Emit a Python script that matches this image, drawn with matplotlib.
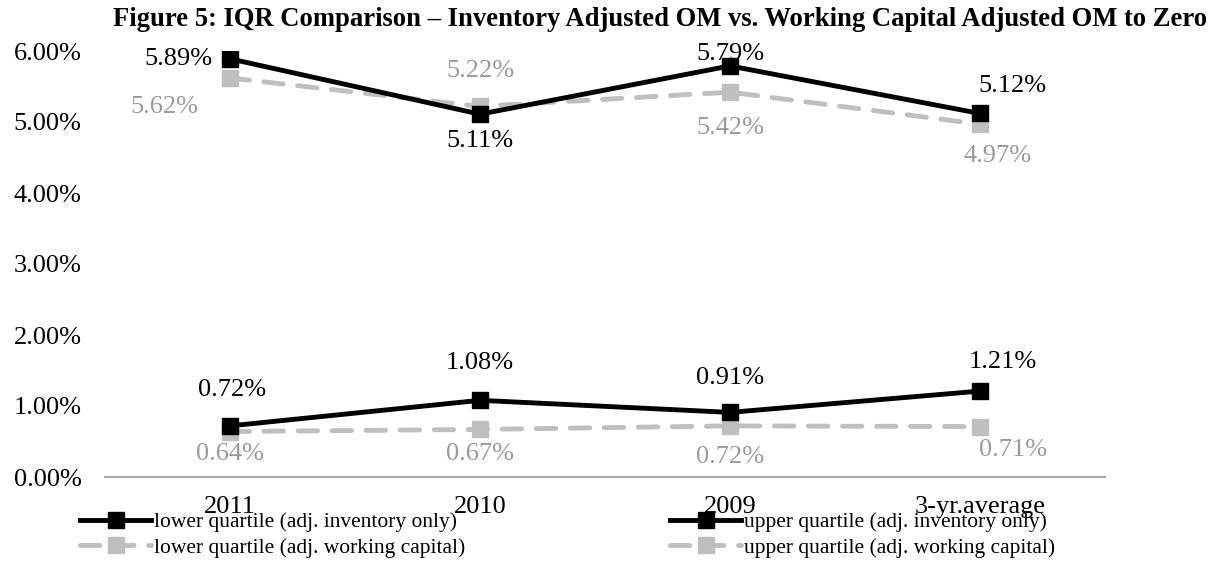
import matplotlib.pyplot as plt

plt.rcParams["font.family"] = ["Liberation Serif", "DejaVu Serif"]

# data (percent)
categories = ["2011", "2010", "2009", "3-yr.average"]
lower_inv = [0.72, 1.08, 0.91, 1.21]
upper_inv = [5.89, 5.11, 5.79, 5.12]
lower_wc = [0.64, 0.67, 0.72, 0.71]
upper_wc = [5.62, 5.22, 5.42, 4.97]
yticks = [0, 1, 2, 3, 4, 5, 6]

# label offsets in pixels for each point
off_lower_inv = [(2, 36), (0, 37), (0, 34), (23, 29)]
off_upper_inv = [(-17, 0), (0, -27), (0, 12), (32, 27)]
off_lower_wc = [(0, -22), (0, -25), (0, -31), (33, -23)]
off_upper_wc = [(-32, -29), (0, 35), (0, -36), (18, -32)]

BLACK = "#000000"
GRAY = "#BFBFBF"
GRAY_TXT = "#9A9A9A"

fig = plt.figure(figsize=(12.19, 5.64), dpi=100)
ax = fig.add_axes([105 / 1219, 87 / 564, 1000 / 1219, 426 / 564])

x = list(range(len(categories)))

solid = dict(color=BLACK, lw=3.5, marker="s", ms=11, mec=BLACK, mfc=BLACK,
             solid_joinstyle="miter", zorder=4)
dashed = dict(color=GRAY, lw=3.5, marker="s", ms=11, mec=GRAY, mfc=GRAY,
              dashes=(4, 3), dash_capstyle="round", zorder=3)

l1, = ax.plot(x, lower_inv, label="lower quartile (adj. inventory only)", **solid)
l2, = ax.plot(x, upper_inv, label="upper quartile (adj. inventory only)", **solid)
l3, = ax.plot(x, lower_wc, label="lower quartile (adj. working capital)", **dashed)
l4, = ax.plot(x, upper_wc, label="upper quartile (adj. working capital)", **dashed)


def add_labels(vals, offsets, color):
    for xi, v, (dx, dy) in zip(x, vals, offsets):
        ha = "center"
        if dx < -10:
            ha = "right"
        ax.annotate(f"{v:.2f}%", (xi, v), xytext=(dx, dy), textcoords="offset pixels",
                    ha=ha, va="center", fontsize=19, color=color, zorder=2)


add_labels(lower_inv, off_lower_inv, BLACK)
add_labels(upper_inv, off_upper_inv, BLACK)
add_labels(lower_wc, off_lower_wc, GRAY_TXT)
add_labels(upper_wc, off_upper_wc, GRAY_TXT)

ax.set_xlim(-0.5, len(categories) - 0.5)
ax.set_ylim(0, 6)
ax.set_xticks(x)
ax.set_xticklabels(categories, fontsize=19)
ax.set_yticks(yticks)
ax.set_yticklabels([f"{t:.2f}%" for t in yticks], fontsize=19)
ax.tick_params(length=0)
ax.tick_params(axis="y", pad=17)
ax.tick_params(axis="x", pad=14)

for s in ["top", "right", "left"]:
    ax.spines[s].set_visible(False)
ax.spines["bottom"].set_color("#A6A6A6")
ax.spines["bottom"].set_linewidth(1.5)

leg_kw = dict(frameon=False, fontsize=15.5, handlelength=3.3, handletextpad=0.15,
              labelspacing=0.25, borderpad=0, borderaxespad=0)
leg1 = fig.legend(handles=[l1, l3], loc="center left",
                  bbox_to_anchor=(80 / 1219, 29 / 564), **leg_kw)
leg2 = fig.legend(handles=[l2, l4], loc="center left",
                  bbox_to_anchor=(670 / 1219, 29 / 564), **leg_kw)

fig.text(660 / 1219, 1 - 26 / 564,
         "Figure 5: IQR Comparison \u2013 Inventory Adjusted OM vs. Working Capital Adjusted OM to Zero",
         ha="center", va="baseline", fontsize=19.2, fontweight="bold")

fig.savefig("out.png", dpi=100)
